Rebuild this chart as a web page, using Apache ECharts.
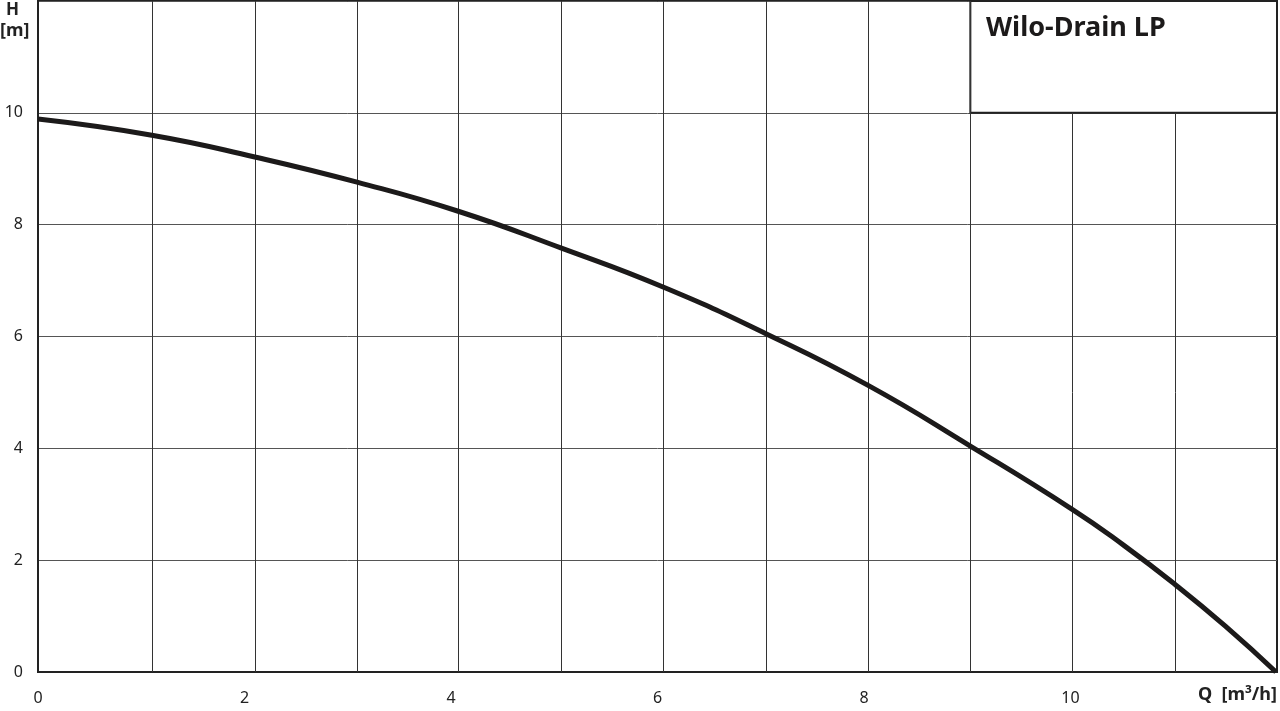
<!DOCTYPE html>
<html>
<head>
<meta charset="utf-8">
<script src="https://cdn.jsdelivr.net/npm/echarts@6/dist/echarts.min.js"></script>
<style>html,body{margin:0;padding:0;background:#fff;}#c{width:1280px;height:711px;}</style>
</head>
<body>
<div id="c"></div>
<script>
// Pump curve Q [m³/h] vs H [m]
const flowQ = [0, 1.103, 2.10, 3.09, 4.07, 5.07, 6.06, 7.05, 8.04, 9.03, 10.02, 10.52, 11.01, 11.5, 11.99];
const headH = [9.89, 9.60, 9.21, 8.76, 8.24, 7.58, 6.88, 6.05, 5.125, 4.04, 2.905, 2.26, 1.57, 0.82, 0];
// vertical grid lines as drawn in the reference
const gridQ = [1.103, 2.10, 3.09, 4.07, 5.07, 6.06, 7.05, 8.04, 9.03, 10.02, 11.01];
const xTicks = [0, 2, 4, 6, 8, 10];
const yTicks = [0, 2, 4, 6, 8, 10];
const titleText = 'Wilo-Drain LP';
const boxQ = [9.03, 12];
const boxH = [10, 12];

const chart = echarts.init(document.getElementById('c'));
const vLines = gridQ.map(q => {
  const topH = q > boxQ[0] + 0.01 ? boxH[0] : 12;
  return [{coord: [q, 0]}, {coord: [q, topH]}];
});

chart.setOption({
  animation: false,
  grid: {left: 38, right: 2, top: 1, bottom: 39, show: true, borderColor: '#222', borderWidth: 2, backgroundColor: 'transparent'},
  xAxis: {
    type: 'value', min: 0, max: 12, interval: 2,
    axisLine: {show: true, lineStyle: {color: '#222', width: 2}},
    axisTick: {show: false},
    splitLine: {show: false},
    axisLabel: {
      color: '#222', fontSize: 16, fontFamily: 'Noto Sans', margin: 18,
      formatter: v => xTicks.includes(v) ? String(v) : ''
    }
  },
  yAxis: {
    type: 'value', min: 0, max: 12, interval: 2,
    axisLine: {show: true, lineStyle: {color: '#222', width: 2}},
    axisTick: {show: false},
    splitLine: {show: true, lineStyle: {color: '#555', width: 1}},
    axisLabel: {
      color: '#222', fontSize: 16, fontFamily: 'Noto Sans', margin: 15,
      formatter: v => yTicks.includes(v) ? String(v) : ''
    }
  },
  series: [
    {
      type: 'line', data: [], silent: true,
      markLine: {
        silent: true, symbol: 'none', label: {show: false},
        lineStyle: {color: '#333', width: 1, type: 'solid'},
        data: vLines
      },
      markArea: {
        silent: true,
        itemStyle: {color: '#fff', borderColor: '#222', borderWidth: 2},
        data: [[{coord: [boxQ[0], boxH[0]]}, {coord: [boxQ[1], boxH[1]]}]]
      },
      z: 1
    },
    {
      type: 'line', smooth: 0.5, symbol: 'none',
      data: flowQ.map((q, i) => [q, headH[i]]),
      lineStyle: {color: '#1c1a1a', width: 5},
      z: 5
    }
  ],
  graphic: [
    {type: 'text', left: 986, top: 15, z: 100, style: {text: titleText, font: 'bold 27px "Noto Sans"', fill: '#1c1a1a'}},
    {type: 'text', left: 6, top: 2, z: 100, style: {text: 'H', font: 'bold 17px "Noto Sans"', fill: '#222'}},
    {type: 'text', left: 0, top: 22, z: 100, style: {text: '[m]', font: 'bold 18px "Noto Sans"', fill: '#222'}},
    {type: 'text', right: 3, top: 686, z: 100, style: {text: 'Q  [m³/h]', font: 'bold 18px "Noto Sans"', fill: '#222'}}
  ]
});
</script>
</body>
</html>
